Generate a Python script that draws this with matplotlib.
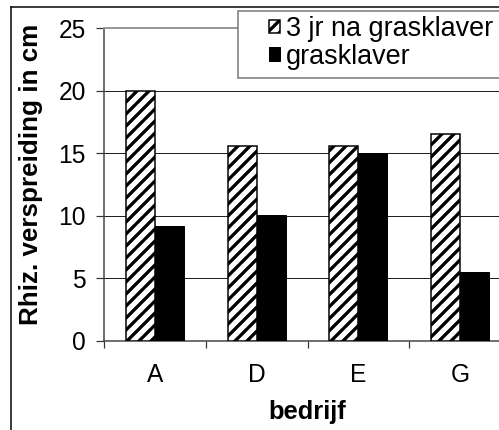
import matplotlib
matplotlib.use("Agg")
import matplotlib.pyplot as plt
from matplotlib.lines import Line2D
from matplotlib.patches import Rectangle
import numpy as np

bedrijven = ["A", "D", "E", "G"]
na_grasklaver = [20.0, 15.6, 15.6, 16.5]
grasklaver = [9.2, 10.1, 15.0, 5.5]
series_names = ["3 jr na grasklaver", "grasklaver"]

plt.rcParams["font.family"] = ["Liberation Sans", "DejaVu Sans"]
plt.rcParams["hatch.linewidth"] = 3.3
plt.rcParams["hatch.color"] = "black"

W, H, DPI = 499, 430, 72
FS = 24.5
fig = plt.figure(figsize=(W / DPI, H / DPI), dpi=DPI)

# axes box in pixels: left 104, right 511 (cut off), top 28, bottom 341
ax = fig.add_axes([104 / W, (H - 341) / H, 407 / W, 313 / H])

x = np.arange(len(bedrijven))
bw = 0.285
ax.bar(x - bw / 2, na_grasklaver, bw, color="white", edgecolor="black",
       hatch="//", linewidth=1.5, label=series_names[0], zorder=3)
ax.bar(x + bw / 2, grasklaver, bw, color="black", edgecolor="black",
       linewidth=1.0, label=series_names[1], zorder=3)

ax.set_xlim(-0.5, len(bedrijven) - 0.5)
ax.set_ylim(0, 25)
ax.set_yticks([0, 5, 10, 15, 20, 25])
ax.yaxis.grid(True, color="#222222", linewidth=1.0, zorder=0)

ax.set_xticks(x)
ax.set_xticklabels(bedrijven)
ax.set_xticks(np.arange(-0.5, len(bedrijven)), minor=True)
ax.tick_params(axis="x", which="major", length=0, pad=22, labelsize=FS)
ax.tick_params(axis="x", which="minor", length=7, width=1.2, color="#333333")
ax.tick_params(axis="y", length=8, width=1.2, color="#333333", pad=10, labelsize=FS)

ax.spines["right"].set_visible(False)
ax.spines["top"].set_color("#999999")
ax.spines["top"].set_linewidth(2)
ax.spines["left"].set_color("#444444")
ax.spines["left"].set_linewidth(1.5)
ax.spines["bottom"].set_color("#444444")
ax.spines["bottom"].set_linewidth(1.5)

ax.set_ylabel("Rhiz. verspreiding in cm", fontsize=26, fontweight="bold")
ax.yaxis.set_label_coords((43 - 104) / 407, (341 - 174) / 313)
ax.set_xlabel("bedrijf", fontsize=25.5, fontweight="bold")
ax.xaxis.set_label_coords(0.5, (341 - 400) / 313)

# legend frame drawn separately (its right part is outside the picture)
fig.add_artist(Rectangle((238 / W, 1 - 78 / H), 300 / W, 67 / H,
                         transform=fig.transFigure, facecolor="white",
                         edgecolor="#777777", linewidth=1.5, zorder=4))
handles, labels = ax.get_legend_handles_labels()
leg = fig.legend(handles, labels, loc="upper left",
                 bbox_to_anchor=(269 / W, 1 - 16 / H),
                 bbox_transform=fig.transFigure,
                 fontsize=27, frameon=False, borderaxespad=0, borderpad=0,
                 handlelength=0.4, handleheight=0.4, handletextpad=0.22,
                 labelspacing=0.06)
leg.set_zorder(5)

# outer chart border (only left and top edges are inside the picture)
fig.add_artist(Line2D([10.5 / W, 10.5 / W], [0, 1 - 7 / H],
                      transform=fig.transFigure, color="black", linewidth=1.5))
fig.add_artist(Line2D([10.5 / W, 1], [1 - 7 / H, 1 - 7 / H],
                      transform=fig.transFigure, color="black", linewidth=1.5))

fig.savefig("out.png", dpi=DPI, facecolor="white")
